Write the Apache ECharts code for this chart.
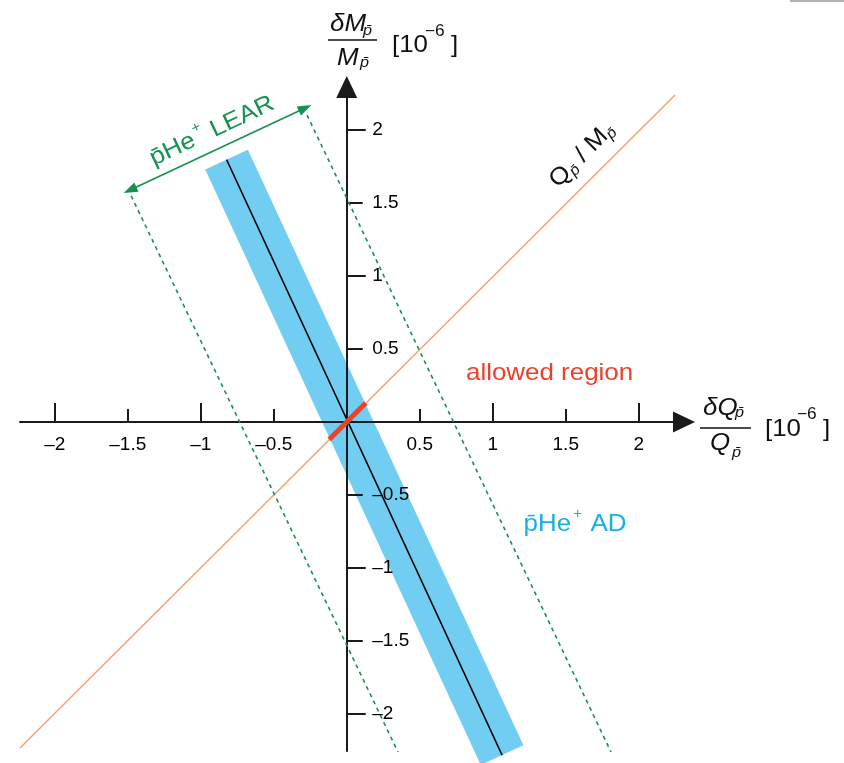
<!DOCTYPE html>
<html>
<head>
<meta charset="utf-8">
<style>
  html, body { margin: 0; padding: 0; background: #fff; }
  #main { width: 844px; height: 763px; }
</style>
<script src="https://cdn.jsdelivr.net/npm/echarts@6/dist/echarts.min.js"></script>
</head>
<body>
<div id="main"></div>
<script>
// 数据 (单位 10^-6)
var xTickValues = [-2, -1.5, -1, -0.5, 0.5, 1, 1.5, 2];
var xMajorTicks = [-2, -1, 1, 2];
var yTickValues = [-2, -1.5, -1, -0.5, 0.5, 1, 1.5, 2];
var yMajorTicks = [-2, -1, 1, 2];
// pHe+ AD 约束带 (中心线两端)
var adBand = [[-0.823, 1.798], [1.064, -2.281]];
// Q/M 直线
var chargeMassLine = [[-2.238, -2.233], [2.249, 2.24]];
// allowed region
var allowedRegion = [[-0.12, -0.12], [0.13, 0.13]];
// pHe+ LEAR 虚线边界和宽度箭头
var learLeft = [[-1.477, 1.55], [0.351, -2.26]];
var learRight = [[-0.272, 2.103], [1.81, -2.26]];
var learArrow = [[-1.484, 1.589], [-0.285, 2.151]];

(function() {
    var FONT = "Liberation Sans";
    var INK = "#1a1a1a";
    var GREEN = "#14924f";
    var SX = 1.08;

    function tickLabel(v) {
        return v === 0 ? "" : String(v).replace("-", "\u2013");
    }

    // 普通坐标轴 + 只画长刻度的辅助坐标轴
    function mainAxis(min, max, ticks, isY) {
        return {
            type: "value",
            min: min,
            max: max,
            position: isY ? "left" : "bottom",
            z: 3,
            axisLine: {
                onZero: true,
                onZeroAxisIndex: 0,
                symbol: ["none", "triangle"],
                symbolSize: [21, 22],
                lineStyle: { color: INK, width: 2 }
            },
            axisTick: {
                inside: true,
                length: isY ? 16 : 13,
                customValues: ticks,
                lineStyle: { color: INK, width: 2 }
            },
            axisLabel: { show: false },
            splitLine: { show: false }
        };
    }
    function majorAxis(min, max, ticks, isY) {
        return {
            type: "value",
            min: min,
            max: max,
            position: isY ? "left" : "bottom",
            z: 3,
            axisLine: { show: false, onZero: true, onZeroAxisIndex: 0 },
            axisTick: {
                inside: true,
                length: 19,
                customValues: ticks,
                lineStyle: { color: INK, width: 2 }
            },
            axisLabel: { show: false },
            splitLine: { show: false }
        };
    }

    // 刻度文字跟着坐标轴原点走
    function tickLabels(name, values, isY) {
        return {
            name: name,
            type: "scatter",
            data: values.map(function(v) {
                return isY ? [0, v] : [v, 0];
            }),
            symbolSize: 1,
            silent: true,
            z: 7,
            itemStyle: { color: "rgba(0,0,0,0)" },
            label: {
                show: true,
                position: isY ? "right" : "bottom",
                distance: isY ? 25 : 13,
                formatter: function(p) {
                    return tickLabel(p.value[isY ? 1 : 0]);
                },
                color: "#000",
                opacity: 1,
                fontSize: 19,
                fontFamily: FONT
            }
        };
    }

    function seg(name, data, color, width, z, type) {
        return {
            name: name,
            type: "line",
            data: data,
            showSymbol: false,
            clip: false,
            silent: true,
            z: z,
            lineStyle: { color: color, width: width, type: type || "solid", cap: "butt" }
        };
    }

    function txt(x, y, text, font, fill) {
        return {
            type: "text",
            x: x,
            y: y,
            scaleX: SX,
            z: 10,
            style: {
                text: text,
                font: font,
                fill: fill || "#111",
                verticalAlign: "middle"
            }
        };
    }
    function bar(x1, x2, y) {
        return {
            type: "line",
            z: 10,
            shape: { x1: x1, y1: y, x2: x2, y2: y },
            style: { stroke: "#111", lineWidth: 1.5 }
        };
    }
    function richLabel(x, y, text, color, size, rotation) {
        return {
            type: "text",
            x: x,
            y: y,
            rotation: rotation || 0,
            scaleX: SX,
            z: 10,
            style: {
                text: text,
                align: "center",
                verticalAlign: "middle",
                fill: color,
                rich: {
                    m: { fontSize: size, fontFamily: FONT, color: color },
                    s: { fontSize: 14, fontFamily: FONT, color: color, padding: [0, 1, 19, 2] },
                    b: { fontSize: 15, fontFamily: FONT, fontStyle: "italic", color: color, padding: [12, 0, 0, 0] }
                }
            }
        };
    }

    var IT = "italic 24px " + FONT;
    var ITS = "italic 15px " + FONT;
    var RG = "24px " + FONT;
    var RGS = "16px " + FONT;
    var pbar = "p\u0304";

    var myChart = echarts.init(document.getElementById("main"));
    var option = {
        animation: false,
        backgroundColor: "#fff",
        grid: { left: 20, top: 87, width: 664, height: 664, outerBoundsMode: "none" },
        xAxis: [
            mainAxis(-2.238, 2.31, xTickValues, false),
            majorAxis(-2.238, 2.31, xMajorTicks, false)
        ],
        yAxis: [
            mainAxis(-2.253, 2.295, yTickValues, true),
            majorAxis(-2.253, 2.295, yMajorTicks, true)
        ],
        series: [
            seg("pHe+ AD band", adBand, "#72cdf2", 47, 1),
            seg("pHe+ AD", adBand, "#000", 1.5, 4),
            seg("Q/M", chargeMassLine, "#f5a272", 1.5, 4),
            seg("allowed region", allowedRegion, "#ee4126", 5, 6),
            seg("LEAR left", learLeft, GREEN, 1.6, 4, [4, 4]),
            seg("LEAR right", learRight, GREEN, 1.6, 4, [4, 4]),
            {
                name: "LEAR width",
                type: "line",
                data: [],
                z: 5,
                markLine: {
                    silent: true,
                    symbol: ["triangle", "triangle"],
                    symbolSize: [10, 14],
                    label: { show: false },
                    lineStyle: { color: GREEN, width: 1.6, type: "solid" },
                    data: [[{ coord: learArrow[0] }, { coord: learArrow[1] }]]
                }
            },
            tickLabels("x ticks", xTickValues, false),
            tickLabels("y ticks", yTickValues, true)
        ],
        graphic: [
            // y 轴标题
            txt(330, 24, "\u03b4M", IT),
            txt(363, 31, pbar, ITS),
            bar(328, 377, 40),
            txt(337, 58.5, "M", IT),
            txt(360, 63, pbar, ITS),
            txt(392, 45, "[10", RG),
            txt(425, 32, "\u22126", RGS),
            txt(451, 45, "]", RG),
            // x 轴标题
            txt(703, 408.5, "\u03b4Q", IT),
            txt(735, 413, pbar, ITS),
            bar(700, 751, 428),
            txt(710, 443.5, "Q", IT),
            txt(732, 453, pbar, ITS),
            txt(765, 429.5, "[10", RG),
            txt(797, 415, "\u22126", RGS),
            txt(823, 429.5, "]", RG),
            // 注释文字
            txt(466, 373.5, "allowed region", "24px " + FONT, "#ee3f2a"),
            richLabel(575, 524, "{m|" + pbar + "He}{s|+}{m| AD}", "#1aaee8", 24, 0),
            richLabel(212, 131, "{m|" + pbar + "He}{s|+}{m| LEAR}", GREEN, 24, 0.44),
            richLabel(582, 155, "{m|Q}{b|" + pbar + "}{m| / M}{b|" + pbar + "}", "#111", 24, Math.PI / 4),
            // 原图右上角的细线
            {
                type: "line",
                shape: { x1: 790, y1: 1, x2: 844, y2: 1 },
                style: { stroke: "#9a9a9a", lineWidth: 1.5 }
            }
        ]
    };
    myChart.setOption(option);
    window.addEventListener("resize", function() {
        myChart.resize();
    });
})();
</script>
</body>
</html>
